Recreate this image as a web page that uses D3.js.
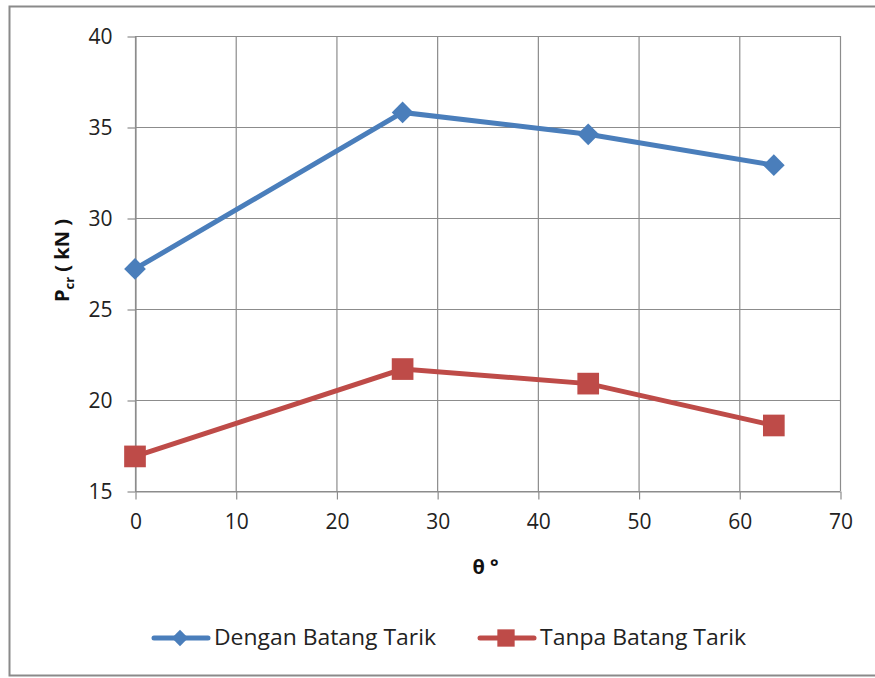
<!DOCTYPE html>
<html>
<head>
<meta charset="utf-8">
<script src="https://cdn.jsdelivr.net/npm/d3@7"></script>
<style>
  body { margin: 0; background: #fff; }
  svg { display: block; font-family: "Open Sans", "Liberation Sans", sans-serif; }
</style>
</head>
<body>
<div id="chart"></div>
<script>
const theta = [0, 26.57, 45, 63.43]
const dengan = [27.2, 35.8, 34.6, 32.9]
const tanpa = [16.9, 21.7, 20.9, 18.6]
const seriesNames = ['Dengan Batang Tarik', 'Tanpa Batang Tarik']
const xTicks = [0, 10, 20, 30, 40, 50, 60, 70]
const yTicks = [15, 20, 25, 30, 35, 40]

const width = 875, height = 678
const blue = '#4a7ebb', red = '#be4b48', grid = '#8c8c8c'

const svg = d3.select('#chart').append('svg')
  .attr('width', width)
  .attr('height', height)

svg.append('rect')
  .attr('x', 9.5).attr('y', 6.5)
  .attr('width', 880).attr('height', 669)
  .attr('fill', '#fff')
  .attr('stroke', '#8a8a8a')
  .attr('stroke-width', 2)

const x = d3.scaleLinear().domain([0, 70]).range([135, 840])
const y = d3.scaleLinear().domain([15, 40]).range([491, 36])

// grid
svg.append('g')
  .selectAll('line')
  .data(xTicks)
  .enter().append('line')
  .attr('x1', d => x(d) + 0.5).attr('x2', d => x(d) + 0.5)
  .attr('y1', y(40)).attr('y2', y(15))
  .attr('stroke', grid).attr('stroke-width', 1.2)

svg.append('g')
  .selectAll('line')
  .data(yTicks)
  .enter().append('line')
  .attr('x1', x(0)).attr('x2', x(70))
  .attr('y1', d => y(d) + 0.5).attr('y2', d => y(d) + 0.5)
  .attr('stroke', grid).attr('stroke-width', 1.2)

// axes
const xAxis = svg.append('g')
  .attr('transform', `translate(0.5,${y(15) + 0.5})`)
  .call(d3.axisBottom(x).tickValues(xTicks).tickSize(8).tickPadding(15).tickSizeOuter(0))
const yAxis = svg.append('g')
  .attr('transform', `translate(${x(0) + 0.5},0.5)`)
  .call(d3.axisLeft(y).tickValues(yTicks).tickSize(8).tickPadding(15).tickSizeOuter(0))

;[xAxis, yAxis].forEach(a => {
  a.select('.domain').attr('stroke', grid).attr('stroke-width', 1.2)
  a.selectAll('.tick line').attr('stroke', grid).attr('stroke-width', 1.2)
  a.selectAll('.tick text').attr('fill', '#222').attr('font-size', 21)
    .attr('font-family', '"Open Sans", sans-serif')
})

// axis titles
svg.append('text')
  .attr('x', x(35) - 2).attr('y', 574)
  .attr('text-anchor', 'middle')
  .attr('font-size', 20).attr('font-weight', 'bold').attr('fill', '#111')
  .text('θ °')

const yl = svg.append('text')
  .attr('transform', `translate(69,${y(27.5) - 3}) rotate(-90)`)
  .attr('text-anchor', 'middle')
  .attr('font-size', 20).attr('font-weight', 'bold').attr('fill', '#111')
yl.append('tspan').text('P')
yl.append('tspan').attr('font-size', 13).attr('dy', 5).text('cr')
yl.append('tspan').attr('dy', -5).text(' ( kN )')

// series
const line = d3.line().x(d => x(d[0])).y(d => y(d[1]))
const dataD = theta.map((t, i) => [t, dengan[i]])
const dataT = theta.map((t, i) => [t, tanpa[i]])

const diamond = d3.symbol().type(d3.symbolDiamond2).size(300)
const square = d3.symbol().type(d3.symbolSquare).size(470)

svg.append('path').datum(dataD)
  .attr('d', line).attr('fill', 'none')
  .attr('stroke', blue).attr('stroke-width', 5)
svg.append('g').selectAll('path')
  .data(dataD).enter().append('path')
  .attr('transform', d => `translate(${x(d[0])},${y(d[1])})`)
  .attr('d', diamond).attr('fill', blue)

svg.append('path').datum(dataT)
  .attr('d', line).attr('fill', 'none')
  .attr('stroke', red).attr('stroke-width', 5)
svg.append('g').selectAll('path')
  .data(dataT).enter().append('path')
  .attr('transform', d => `translate(${x(d[0])},${y(d[1])})`)
  .attr('d', square).attr('fill', red)

// legend
const legend = [
  { name: seriesNames[0], color: blue, sym: d3.symbol().type(d3.symbolDiamond2).size(170), lx: 154, tx: 214, tw: 222 },
  { name: seriesNames[1], color: red, sym: d3.symbol().type(d3.symbolSquare).size(300), lx: 480, tx: 540, tw: 206 }
]
const lg = svg.append('g')
legend.forEach(l => {
  const g = lg.append('g').attr('transform', `translate(${l.lx},638)`)
  g.append('line').attr('x1', 0).attr('x2', 54).attr('stroke', l.color)
    .attr('stroke-width', 5).attr('stroke-linecap', 'round')
  g.append('path').attr('transform', 'translate(26,0)').attr('d', l.sym).attr('fill', l.color)
  lg.append('text').attr('x', l.tx).attr('y', 645).attr('font-size', 21).attr('fill', '#222')
    .attr('textLength', l.tw).attr('lengthAdjust', 'spacingAndGlyphs').text(l.name)
})
</script>
</body>
</html>
